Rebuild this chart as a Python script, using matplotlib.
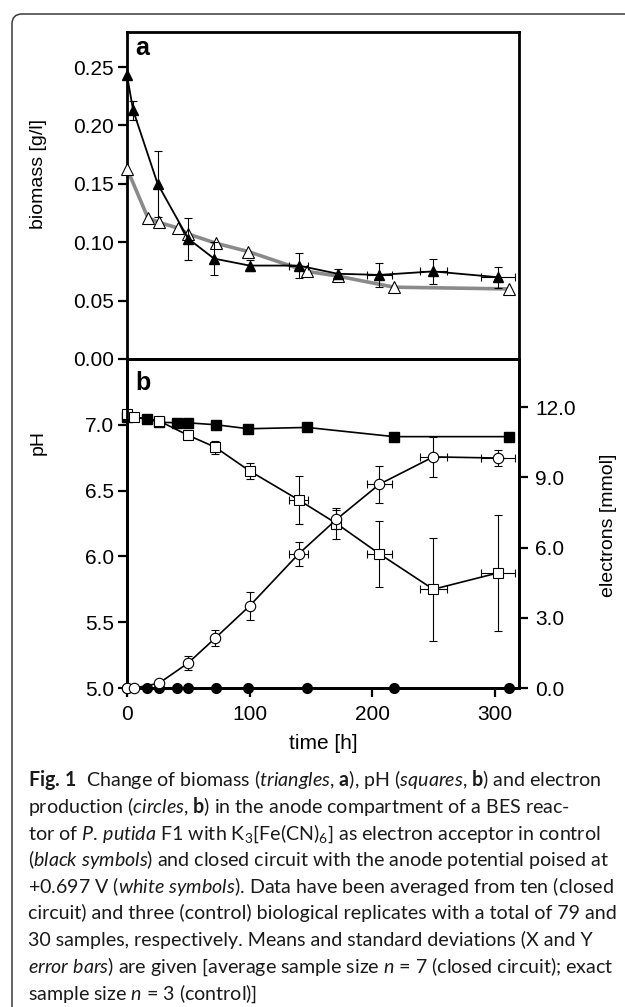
import matplotlib
matplotlib.use('Agg')
import matplotlib.pyplot as plt
from matplotlib.patches import FancyBboxPatch
from matplotlib.transforms import IdentityTransform

plt.rcParams['font.family'] = ['Liberation Sans', 'DejaVu Sans']
plt.rcParams['mathtext.fontset'] = 'custom'
plt.rcParams['mathtext.rm'] = 'Lato'
plt.rcParams['mathtext.it'] = 'Lato:italic'
plt.rcParams['mathtext.bf'] = 'Lato:bold'

# panel a: biomass [g/l]
t_bio_ctrl = [0, 5, 25, 50, 71, 100, 140, 172, 206, 250, 303]
bio_ctrl = [0.243, 0.213, 0.150, 0.103, 0.086, 0.080, 0.080, 0.073, 0.072, 0.075, 0.070]
bio_ctrl_sd = [0.0, 0.008, 0.028, 0.018, 0.014, 0.005, 0.011, 0.004, 0.010, 0.011, 0.009]
t_bio_ctrl_sd = [0, 0, 0, 0, 0, 0, 8, 0, 10, 11, 14]

t_bio_cc = [0, 17, 26, 42, 50, 73, 99, 147, 172, 218, 312]
bio_cc = [0.163, 0.121, 0.117, 0.112, 0.107, 0.099, 0.092, 0.075, 0.071, 0.0615, 0.060]

# panel b: pH and electrons
t_ctrl = [0, 16, 26, 41, 50, 73, 99, 147, 218, 312]
ph_ctrl = [7.06, 7.045, 7.02, 7.015, 7.015, 7.00, 6.97, 6.98, 6.91, 6.91]
el_ctrl = [0, 0, 0, 0, 0, 0, 0, 0, 0, 0]

t_cc = [0, 6, 26, 50, 72, 100, 140, 171, 206, 250, 303]
t_cc_sd = [0, 0, 0, 0, 0, 0, 8, 0, 10, 11, 14]
ph_cc = [7.08, 7.06, 7.03, 6.92, 6.83, 6.65, 6.43, 6.25, 6.02, 5.75, 5.875]
ph_cc_sd = [0.02, 0.01, 0.01, 0.02, 0.05, 0.06, 0.18, 0.12, 0.25, 0.39, 0.44]
el_cc = [0, 0, 0.2, 1.07, 2.13, 3.5, 5.72, 7.2, 8.7, 9.87, 9.82]
el_cc_sd = [0, 0, 0, 0.3, 0.35, 0.6, 0.5, 0.4, 0.8, 0.85, 0.35]

caption = [
    r"$\mathbf{Fig.\,1}$  Change of biomass ($\mathit{triangles}$, $\mathbf{a}$), pH ($\mathit{squares}$, $\mathbf{b}$) and electron",
    r"production ($\mathit{circles}$, $\mathbf{b}$) in the anode compartment of a BES reac-",
    r"tor of $\mathit{P.\,putida}$ F1 with K$_3$[Fe(CN)$_6$] as electron acceptor in control",
    r"($\mathit{black\ symbols}$) and closed circuit with the anode potential poised at",
    r"+0.697 V ($\mathit{white\ symbols}$). Data have been averaged from ten (closed",
    "circuit) and three (control) biological replicates with a total of 79 and",
    "30 samples, respectively. Means and standard deviations (X and Y",
    r"$\mathit{error\ bars}$) are given [average sample size $\mathit{n}$ = 7 (closed circuit); exact",
    r"sample size $\mathit{n}$ = 3 (control)]",
]


def err(ax, x, y, xe, ye, z):
    # draw only the bars that are non-zero
    for xi, yi, xei, yei in zip(x, y, xe, ye):
        if yei > 0:
            ax.errorbar([xi], [yi], yerr=[yei], fmt='none', ecolor='black',
                        elinewidth=0.8, capsize=3, capthick=0.8, zorder=z, clip_on=False)
        if xei > 0:
            ax.errorbar([xi], [yi], xerr=[xei], fmt='none', ecolor='black',
                        elinewidth=0.8, capsize=3, capthick=0.8, zorder=z, clip_on=False)


W, H = 625, 1007
fig = plt.figure(figsize=(W / 100, H / 100), dpi=100)
ax_a = fig.add_axes([127 / W, 1 - 359 / H, 392 / W, 327 / H])
ax_b = fig.add_axes([127 / W, 1 - 688 / H, 392 / W, 329 / H])
ax_e = ax_b.twinx()

# ---- panel a
ax_a.plot(t_bio_cc, bio_cc, color='#8a8a8a', lw=2.6, zorder=2, clip_on=False)
ax_a.plot(t_bio_cc, bio_cc, ls='none', marker='^', ms=8, mfc='white', mec='black',
          mew=0.8, zorder=3, clip_on=False)
err(ax_a, t_bio_ctrl, bio_ctrl, t_bio_ctrl_sd, bio_ctrl_sd, 4)
ax_a.plot(t_bio_ctrl, bio_ctrl, color='black', lw=1.3, marker='^', ms=7.5,
          mfc='black', mec='black', zorder=5, clip_on=False)

ax_a.set_xlim(0, 320)
ax_a.set_ylim(0, 0.28)
ax_a.set_yticks([0, 0.05, 0.10, 0.15, 0.20, 0.25])
ax_a.set_yticklabels(['0.00', '0.05', '0.10', '0.15', '0.20', '0.25'])
ax_a.set_xticks([])
ax_a.set_ylabel('biomass [g/l]', fontsize=14)
ax_a.yaxis.set_label_coords(-0.204, 0.566)
ax_a.text(0.04, 0.952, 'a', transform=ax_a.transAxes, fontsize=18,
          fontweight='bold', ha='center', va='center')

# ---- panel b
ax_b.plot(t_ctrl, ph_ctrl, color='black', lw=1.2, marker='s', ms=7, mfc='black',
          mec='black', zorder=4, clip_on=False)
err(ax_b, t_cc, ph_cc, t_cc_sd, ph_cc_sd, 3)
ax_b.plot(t_cc, ph_cc, color='black', lw=1.2, marker='s', ms=7.5, mfc='white',
          mec='black', mew=0.8, zorder=5, clip_on=False)
ax_b.set_xlim(0, 320)
ax_b.set_ylim(5.0, 7.5)
ax_b.set_yticks([5.0, 5.5, 6.0, 6.5, 7.0])
ax_b.set_yticklabels(['5.0', '5.5', '6.0', '6.5', '7.0'])
ax_b.set_xticks([0, 100, 200, 300])
ax_b.set_ylabel('pH', fontsize=14)
ax_b.yaxis.set_label_coords(-0.204, 0.745)
ax_b.set_xlabel('time [h]', fontsize=15, labelpad=7)
ax_b.text(0.04, 0.928, 'b', transform=ax_b.transAxes, fontsize=18,
          fontweight='bold', ha='center', va='center')

ax_e.plot(t_ctrl, el_ctrl, color='black', lw=1.2, marker='o', ms=7, mfc='black',
          mec='black', zorder=4, clip_on=False)
err(ax_e, t_cc, el_cc, t_cc_sd, el_cc_sd, 3)
ax_e.plot(t_cc, el_cc, color='black', lw=1.2, marker='o', ms=7.5, mfc='white',
          mec='black', mew=0.8, zorder=5, clip_on=False)
ax_e.set_ylim(0, 14.05)
ax_e.set_yticks([0, 3, 6, 9, 12])
ax_e.set_yticklabels(['0.0', '3.0', '6.0', '9.0', '12.0'])
ax_e.set_ylabel('electrons [mmol]', fontsize=14, rotation=90)
ax_e.yaxis.set_label_coords(1.207, 0.495)

for ax in (ax_a, ax_b, ax_e):
    for s in ax.spines.values():
        s.set_linewidth(2)
    ax.tick_params(direction='out', length=6.5, width=1.6, labelsize=15, pad=3)
ax_b.tick_params(axis='x', pad=6)
ax_e.tick_params(axis='y', pad=5)
ax_a.patch.set_visible(False)

# rounded frame around the figure
frame = FancyBboxPatch((12, -100), 900, H - 14 + 100,
                       boxstyle='round,pad=0,rounding_size=10',
                       transform=IdentityTransform(), fill=False,
                       ec='#3a3a3a', lw=1.1)
fig.add_artist(frame)

# caption, scaled to the reference line width
texts = []
for i, line in enumerate(caption):
    t = fig.text(28 / W, 1 - (786.5 + 26.6 * i) / H, line, fontsize=14,
                 family='Lato', va='baseline', ha='left', color='#1a1a1a')
    texts.append(t)
renderer = fig.canvas.get_renderer()
w0 = texts[0].get_window_extent(renderer).width
for t in texts:
    t.set_fontsize(14 * 574 / w0)

fig.savefig('out.png', dpi=100)
